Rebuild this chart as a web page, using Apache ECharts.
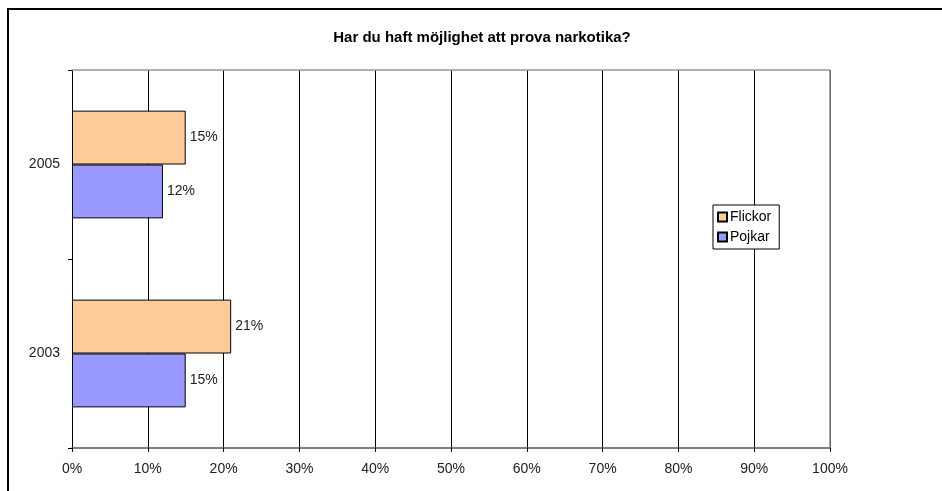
<!DOCTYPE html>
<html><head><meta charset="utf-8">
<script src="https://cdn.jsdelivr.net/npm/echarts@6/dist/echarts.min.js"></script>
<style>html,body{margin:0;padding:0;background:#fff}#c{width:942px;height:491px}</style>
</head><body><div id="c"></div>
<script>
const title = "Har du haft möjlighet att prova narkotika?";
const years = ["2003", "2005"];
const flickor = [21, 15];
const pojkar = [15, 12];
const xTicks = [0, 10, 20, 30, 40, 50, 60, 70, 80, 90, 100];

const chart = echarts.init(document.getElementById('c'), null, {renderer: 'canvas'});
const font = 'Arial, "Liberation Sans", sans-serif';
chart.setOption({
  animation: false,
  backgroundColor: '#fff',
  title: {text: title, left: 477, top: 25, textAlign: 'center',
    textStyle: {fontFamily: font, fontSize: 15, fontWeight: 'bold', color: '#000'}},
  graphic: [
    {type: 'rect', shape: {x: 8, y: 9, width: 1000, height: 600}, style: {fill: 'none', stroke: '#000', lineWidth: 2}, z: 100},
    {type: 'line', shape: {x1: 72, y1: 70, x2: 830, y2: 70}, style: {stroke: '#999', lineWidth: 1.5}, z: 50},
    {type: 'line', shape: {x1: 830, y1: 70, x2: 830, y2: 448}, style: {stroke: '#888', lineWidth: 1.5}, z: 50}
  ],
  grid: {left: 72, right: 112, top: 70, bottom: 43, containLabel: false},
  legend: {
    orient: 'vertical', left: 713, top: 205,
    data: ['Flickor', 'Pojkar'],
    itemWidth: 9, itemHeight: 9, itemGap: 6,
    padding: [5, 8, 5, 4],
    borderColor: '#000', borderWidth: 1, backgroundColor: '#fff',
    textStyle: {fontFamily: font, fontSize: 14, color: '#000', padding: [0, 0, 0, -2]},
    icon: 'rect'
  },
  xAxis: {
    type: 'value', min: 0, max: 100, interval: 10,
    axisLine: {show: true, lineStyle: {color: '#555', width: 1.5}},
    axisTick: {show: true, length: 4, lineStyle: {color: '#000'}},
    axisLabel: {formatter: v => v + '%', fontFamily: font, fontSize: 14, color: '#222', margin: 14},
    splitLine: {show: true, lineStyle: {color: '#000', width: 1}}
  },
  yAxis: {
    type: 'category', data: years,
    axisLine: {show: true, lineStyle: {color: '#000', width: 1}},
    axisTick: {show: true, length: 4, inside: false, lineStyle: {color: '#000'}},
    axisLabel: {fontFamily: font, fontSize: 14, color: '#222', margin: 12}
  },
  series: [
    {name: 'Flickor', type: 'bar', data: flickor, barGap: '0%', barCategoryGap: '43%',
      itemStyle: {color: '#FFCC99', borderColor: '#000', borderWidth: 1},
      label: {show: true, position: 'right', formatter: p => p.value + '%', fontFamily: font, fontSize: 14, color: '#222', distance: 4}},
    {name: 'Pojkar', type: 'bar', data: pojkar, barGap: '0%', barCategoryGap: '43%',
      itemStyle: {color: '#9999FF', borderColor: '#000', borderWidth: 1},
      label: {show: true, position: 'right', formatter: p => p.value + '%', fontFamily: font, fontSize: 14, color: '#222', distance: 4}}
  ]
});
</script></body></html>
